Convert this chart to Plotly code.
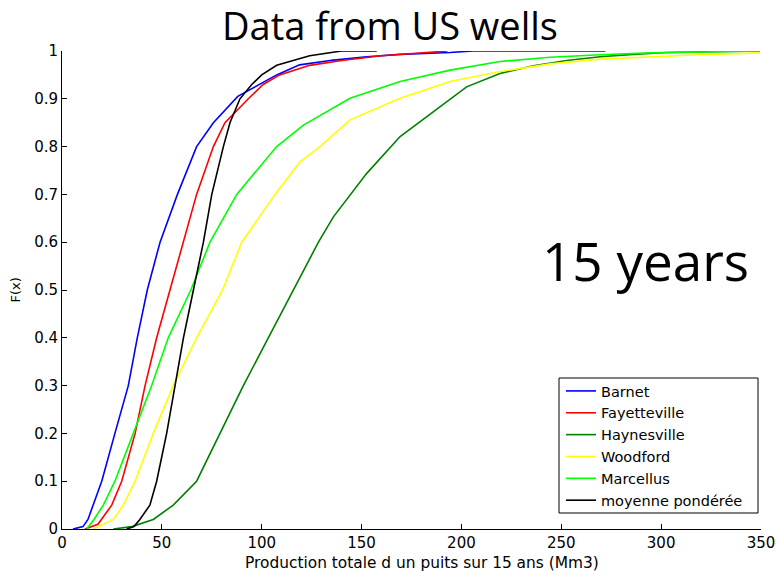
import plotly.graph_objects as go

# ---- data ----
barnet_x = [5.5, 10.5, 13, 15.7, 19.9, 26.5, 33.2, 37.7, 42.7, 49.1, 57.8, 67.4, 75.8, 88, 99, 107.5, 119, 136, 152.6, 169.3, 194.3, 206, 272]
barnet_f = [0, 0.005, 0.02, 0.05, 0.1, 0.2, 0.3, 0.4, 0.5, 0.6, 0.7, 0.8, 0.85, 0.905, 0.93, 0.95, 0.971, 0.981, 0.988, 0.993, 0.997, 1.0, 1.0]

fayet_x = [11.5, 18, 24.9, 29.9, 36.6, 41.6, 47.4, 54.1, 60.8, 67.4, 75.8, 81.6, 93.3, 100.7, 109, 124, 140, 160, 193]
fayet_f = [0, 0.01, 0.05, 0.1, 0.2, 0.3, 0.4, 0.5, 0.6, 0.7, 0.8, 0.85, 0.9, 0.93, 0.95, 0.97, 0.98, 0.99, 1.0]

hayn_x = [25.7, 35, 45.7, 55.7, 67.4, 79.1, 90.8, 103.3, 115.8, 128.4, 135.9, 152.6, 169.3, 186, 202.6, 219.3, 236, 252.7, 269.4, 286, 302.8, 349.5]
hayn_f = [0, 0.005, 0.02, 0.05, 0.1, 0.2, 0.3, 0.4, 0.5, 0.6, 0.653, 0.744, 0.821, 0.873, 0.925, 0.953, 0.969, 0.980, 0.988, 0.993, 0.997, 1.0]

wood_x = [15.7, 25.7, 30.7, 36.6, 45.7, 55.7, 67.4, 74.1, 80.4, 90, 106.7, 115.8, 119.2, 129.2, 144.2, 169.3, 194.3, 219.3, 244.4, 269.4, 294.4, 319.5, 349.5]
wood_f = [0, 0.02, 0.05, 0.1, 0.2, 0.3, 0.4, 0.45, 0.5, 0.6, 0.7, 0.75, 0.768, 0.8, 0.856, 0.901, 0.936, 0.957, 0.973, 0.983, 0.988, 0.992, 0.996]

marc_x = [12.4, 16, 20.7, 26.5, 35.7, 44.9, 53.2, 64.5, 74.1, 87.5, 97.5, 107.5, 120.9, 144.2, 169.3, 194.3, 219.3, 244.4, 269.4, 294.4, 349.5]
marc_f = [0, 0.02, 0.05, 0.1, 0.2, 0.3, 0.4, 0.5, 0.6, 0.7, 0.75, 0.8, 0.845, 0.901, 0.936, 0.960, 0.978, 0.987, 0.992, 0.996, 1.0]

moy_x = [32.4, 36, 39, 44, 47.4, 52.4, 56.6, 60.8, 65.8, 70.8, 75, 80.8, 84.1, 89.1, 95, 100, 107.5, 115.8, 124, 140, 157.6]
moy_f = [0, 0.005, 0.02, 0.05, 0.1, 0.2, 0.3, 0.4, 0.5, 0.6, 0.7, 0.8, 0.85, 0.9, 0.93, 0.95, 0.97, 0.98, 0.99, 1.0, 1.0]

series_names = ["Barnet", "Fayetteville", "Haynesville", "Woodford", "Marcellus", "moyenne pondérée"]
series_x = [barnet_x, fayet_x, hayn_x, wood_x, marc_x, moy_x]
series_f = [barnet_f, fayet_f, hayn_f, wood_f, marc_f, moy_f]
series_colors = ["#0000FF", "#FF0000", "#008000", "#FFFF00", "#00FF00", "#000000"]

x_ticks = [0, 50, 100, 150, 200, 250, 300, 350]
y_ticks = [0, 0.1, 0.2, 0.3, 0.4, 0.5, 0.6, 0.7, 0.8, 0.9, 1]
y_ticklabels = ["0", "0.1", "0.2", "0.3", "0.4", "0.5", "0.6", "0.7", "0.8", "0.9", "1"]

title_text = "Data from US wells"
note_text = "15 years"
xlabel = "Production totale d un puits sur 15 ans (Mm3)"
ylabel = "F(x)"

# ---- figure ----
fig = go.Figure()
for name, xs, fs, col in zip(series_names, series_x, series_f, series_colors):
    fig.add_trace(go.Scatter(x=xs, y=fs, mode="lines", name=name,
                             line=dict(color=col, width=1.6)))

W, H = 777, 571
ml, mr, mt, mb = 62, 16, 51, 42
pw, ph = W - ml - mr, H - mt - mb

def px_to_paper_x(px):
    return (px - ml) / pw

def px_to_paper_y(py):
    return (H - mb - py) / ph

axis_font = dict(family="DejaVu Sans", size=15, color="black")

fig.update_layout(
    width=W, height=H,
    margin=dict(l=ml, r=mr, t=mt, b=mb, autoexpand=False),
    plot_bgcolor="white", paper_bgcolor="white",
    showlegend=True,
    legend=dict(
        x=px_to_paper_x(561), y=px_to_paper_y(517),
        xanchor="left", yanchor="bottom",
        borderwidth=0, bgcolor="rgba(0,0,0,0)",
        font=dict(family="DejaVu Sans", size=14.5, color="black"),
        tracegroupgap=0,
    ),
    shapes=[
        # legend frame
        dict(type="rect", xref="paper", yref="paper", layer="below",
             x0=px_to_paper_x(559), x1=px_to_paper_x(758),
             y0=px_to_paper_y(513), y1=px_to_paper_y(378),
             line=dict(color="black", width=1), fillcolor="white"),
    ],
    xaxis=dict(range=[0, 350], tickvals=x_ticks, showline=True, linecolor="black",
               linewidth=1, ticks="inside", ticklen=5, tickcolor="black",
               showgrid=False, zeroline=False, tickfont=axis_font, mirror=False,
               automargin=False),
    yaxis=dict(range=[0, 1], tickvals=y_ticks, ticktext=y_ticklabels, showline=True,
               linecolor="black", linewidth=1, ticks="inside", ticklen=5,
               tickcolor="black", showgrid=False, zeroline=False, tickfont=axis_font,
               mirror=False, automargin=False),
    annotations=[
        dict(text=title_text, xref="paper", yref="paper",
             x=px_to_paper_x(389.5), y=px_to_paper_y(25),
             xanchor="center", yanchor="middle", showarrow=False,
             font=dict(family="Open Sans", size=38, color="black")),
        dict(text=note_text, xref="paper", yref="paper",
             x=px_to_paper_x(645), y=px_to_paper_y(260),
             xanchor="center", yanchor="middle", showarrow=False,
             font=dict(family="Open Sans", size=53, color="black")),
        dict(text=xlabel, xref="paper", yref="paper",
             x=px_to_paper_x(422), y=px_to_paper_y(562.5),
             xanchor="center", yanchor="middle", showarrow=False,
             font=dict(family="DejaVu Sans", size=15.4, color="black")),
        dict(text=ylabel, xref="paper", yref="paper",
             x=px_to_paper_x(15), y=px_to_paper_y(290.5),
             xanchor="center", yanchor="middle", showarrow=False, textangle=-90,
             font=dict(family="DejaVu Sans", size=13, color="black")),
    ],
)

fig.write_html("out.html")
